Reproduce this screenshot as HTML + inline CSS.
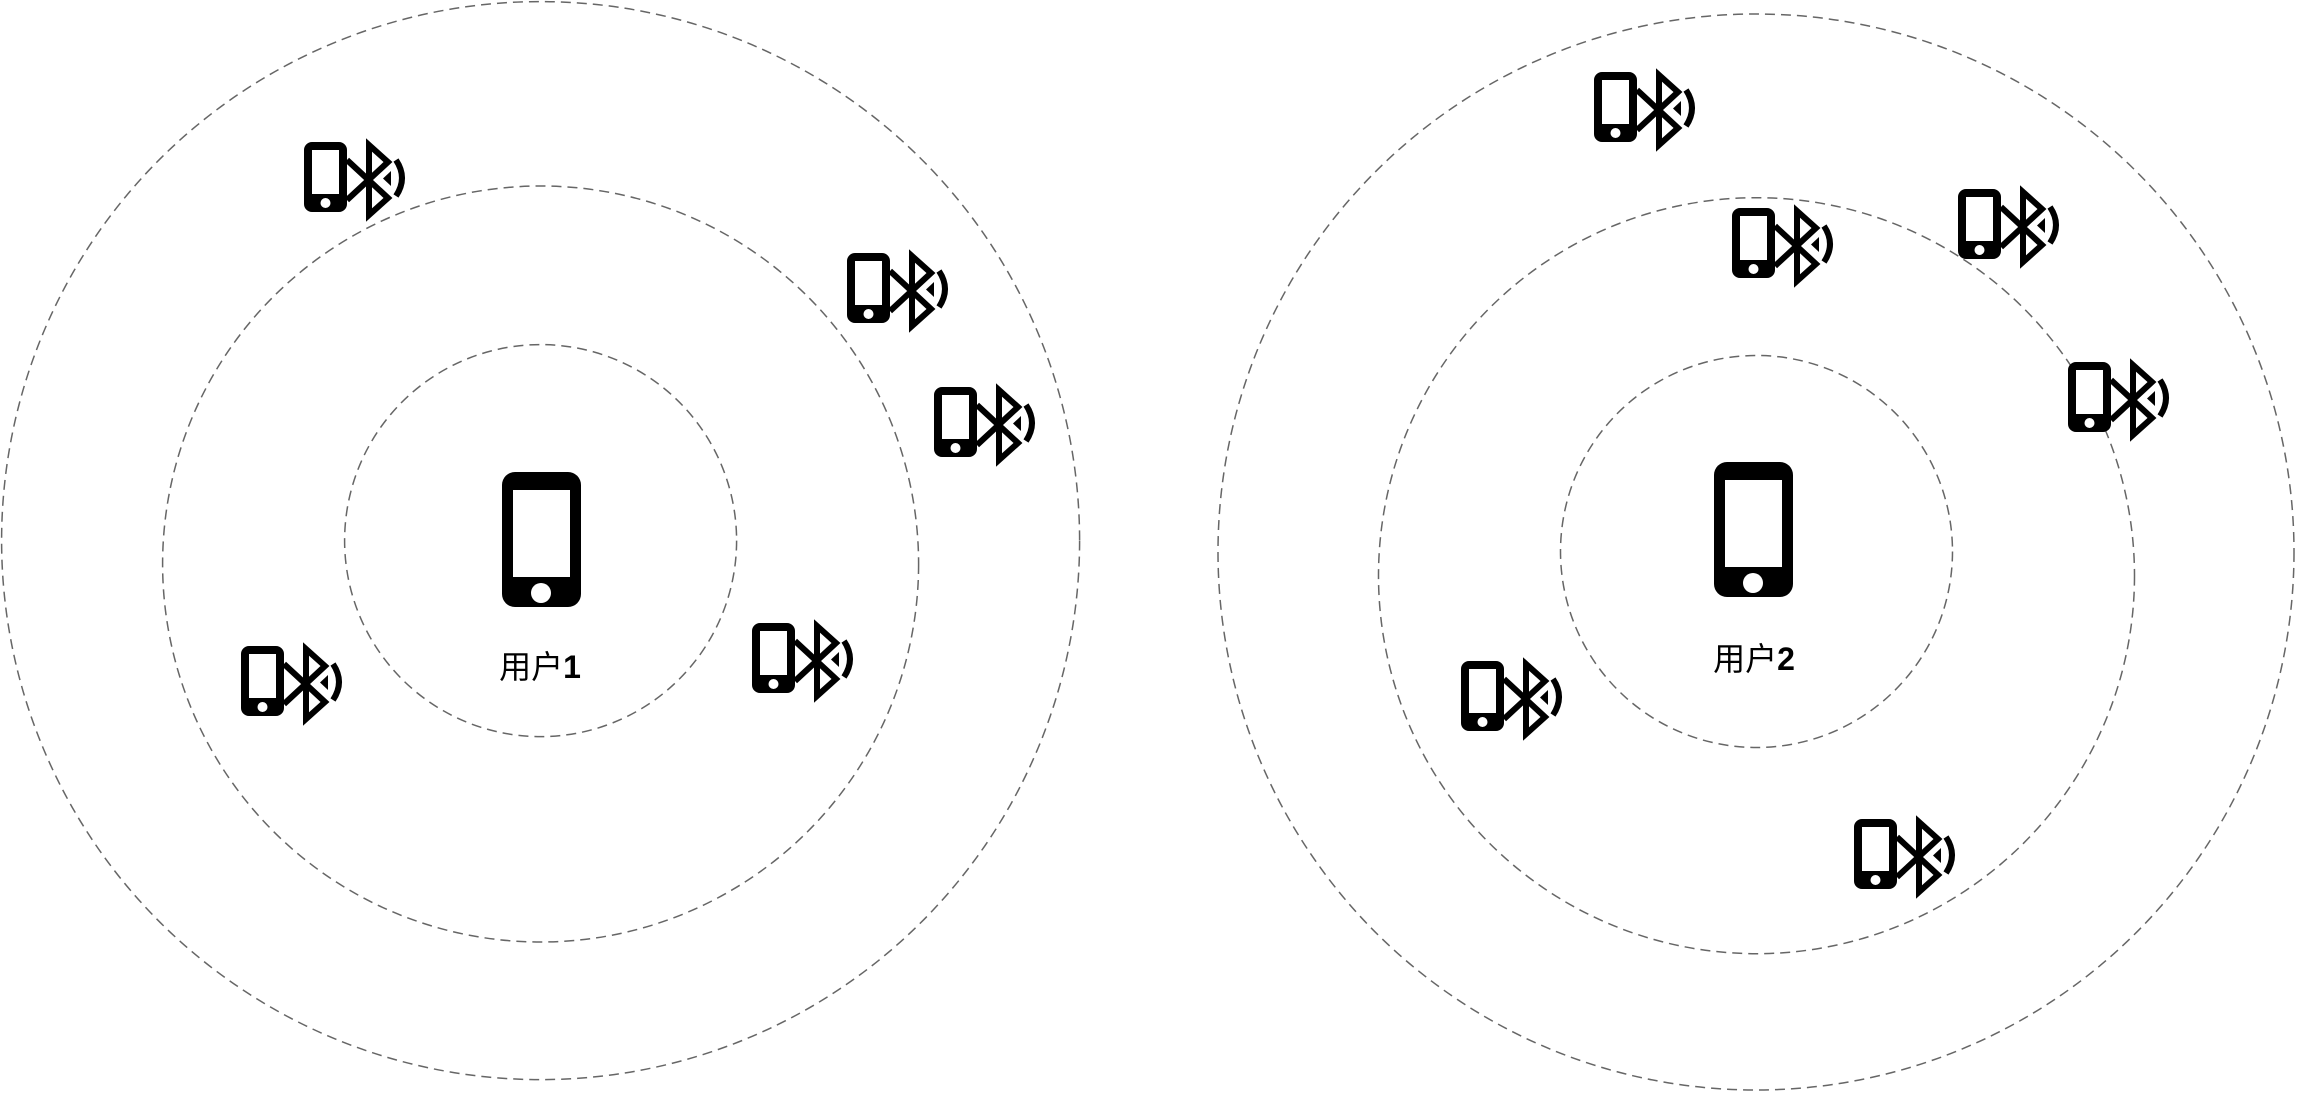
<!DOCTYPE html>
<html><head><meta charset="utf-8"><style>
html,body{margin:0;padding:0;background:#fff;}
svg{display:block}
text{font-family:"Liberation Sans","Noto Sans CJK SC",sans-serif;}
</style></head><body>
<svg width="2297" height="1093" viewBox="0 0 2297 1093">
<defs>
<g id="bt-device">
<rect x="2" y="2" width="39" height="66" rx="6" fill="#000" stroke="#000" stroke-width="4"/>
<rect x="8" y="8" width="27" height="44" fill="#fff"/>
<circle cx="21.5" cy="61" r="5" fill="#fff"/>
<path d="M43,18 L84,56 L65,73 L65,3 L84,20 L43,58" fill="none" stroke="#000" stroke-width="6" stroke-linejoin="miter"/>
<polygon points="87,29 87,44 79,36.5" fill="#000"/>
<path d="M92,18 Q104,36 92,54" fill="none" stroke="#000" stroke-width="6"/>
</g>
</defs>
<g fill="none" stroke="#666" stroke-width="1.5" stroke-dasharray="10,6">
<circle cx="540.6" cy="540.6" r="539"/>
<circle cx="540.6" cy="564" r="378"/>
<circle cx="540.6" cy="540.6" r="196"/>
<circle cx="1756" cy="552" r="538"/>
<circle cx="1756.5" cy="575.7" r="378"/>
<circle cx="1756.5" cy="551.5" r="196"/>
</g>
<g>
<rect x="502" y="472" width="79" height="135" rx="13" fill="#000"/>
<rect x="513" y="490" width="57" height="87" fill="#fff"/>
<circle cx="541" cy="593" r="10" fill="#fff"/>
</g>
<text x="540" y="678" font-size="32" text-anchor="middle">用户<tspan font-weight="bold">1</tspan></text>
<g>
<rect x="1714" y="462" width="79" height="135" rx="13" fill="#000"/>
<rect x="1725" y="480" width="57" height="87" fill="#fff"/>
<circle cx="1753" cy="583" r="10" fill="#fff"/>
</g>
<text x="1754" y="670" font-size="32" text-anchor="middle">用户<tspan font-weight="bold">2</tspan></text>
<use href="#bt-device" x="304" y="142"/>
<use href="#bt-device" x="847" y="253"/>
<use href="#bt-device" x="934" y="387"/>
<use href="#bt-device" x="241" y="646"/>
<use href="#bt-device" x="752" y="623"/>
<use href="#bt-device" x="1594" y="72"/>
<use href="#bt-device" x="1732" y="208"/>
<use href="#bt-device" x="1958" y="189"/>
<use href="#bt-device" x="2068" y="362"/>
<use href="#bt-device" x="1461" y="661"/>
<use href="#bt-device" x="1854" y="819"/>
</svg>
</body></html>
